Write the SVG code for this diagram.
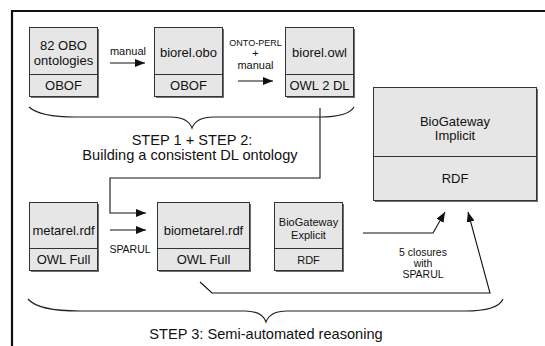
<svg xmlns="http://www.w3.org/2000/svg" width="545" height="346" viewBox="0 0 545 346">
  <defs>
    <marker id="arrow" viewBox="0 0 10 8" refX="10" refY="4" markerWidth="10" markerHeight="8" markerUnits="userSpaceOnUse" orient="auto">
      <path d="M0,0 L10,4 L0,8 Z" fill="#111"/>
    </marker>
  </defs>
  <style>
    text { font-family: "Liberation Sans", Arial, sans-serif; fill: #111; text-anchor: middle; }
    .shadow { fill: #6e6e6e; }
    .box { fill: #e6e6e6; stroke: #333; stroke-width: 1; }
    .div { stroke: #333; stroke-width: 1; }
    .t13 { font-size: 13px; }
    .t11 { font-size: 11px; }
    .t10 { font-size: 10.5px; }
    .t9 { font-size: 9px; }
    .step { font-size: 14.6px; }
    .wire { fill: none; stroke: #111; stroke-width: 1.1; }
    .brace { fill: none; stroke: #222; stroke-width: 1.2; }
  </style>

  <rect width="545" height="346" fill="#fff"/>

  <!-- outer frame: top and left edges only -->
  <path d="M12,346 V11 H545" fill="none" stroke="#111" stroke-width="2.2"/>

  <!-- nodes -->
  <g id="obo-ontologies">
    <rect class="shadow" x="31" y="29" width="68" height="69"/>
    <rect class="box" x="29.5" y="27.5" width="68" height="69"/>
    <line class="div" x1="29.5" y1="74.5" x2="97.5" y2="74.5"/>
    <text class="t13" x="63.5" y="50">82 OBO</text>
    <text class="t13" x="63.5" y="65">ontologies</text>
    <text class="t13" x="63.5" y="90">OBOF</text>
  </g>

  <g id="biorel-obo">
    <rect class="shadow" x="156" y="29" width="68" height="69"/>
    <rect class="box" x="154.5" y="27.5" width="68" height="69"/>
    <line class="div" x1="154.5" y1="74.5" x2="222.5" y2="74.5"/>
    <text class="t13" x="188.5" y="57">biorel.obo</text>
    <text class="t13" x="188.5" y="90">OBOF</text>
  </g>

  <g id="biorel-owl">
    <rect class="shadow" x="287" y="29" width="68" height="69"/>
    <rect class="box" x="285.5" y="27.5" width="68" height="69"/>
    <line class="div" x1="285.5" y1="74.5" x2="353.5" y2="74.5"/>
    <text class="t13" x="319.5" y="57">biorel.owl</text>
    <text class="t13" x="319.5" y="90">OWL 2 DL</text>
  </g>

  <g id="biogateway-implicit">
    <rect class="shadow" x="375" y="89" width="163" height="113"/>
    <rect class="box" x="373.5" y="87.5" width="163" height="113"/>
    <line class="div" x1="373.5" y1="156.5" x2="536.5" y2="156.5"/>
    <text class="t13" x="455" y="126">BioGateway</text>
    <text class="t13" x="455" y="140">Implicit</text>
    <text class="t13" x="455" y="183">RDF</text>
  </g>

  <g id="metarel">
    <rect class="shadow" x="31" y="204" width="68" height="68"/>
    <rect class="box" x="29.5" y="202.5" width="68" height="68"/>
    <line class="div" x1="29.5" y1="248.5" x2="97.5" y2="248.5"/>
    <text class="t13" x="63.5" y="234.5">metarel.rdf</text>
    <text class="t13" x="63.5" y="264">OWL Full</text>
  </g>

  <g id="biometarel">
    <rect class="shadow" x="159" y="204" width="92" height="68"/>
    <rect class="box" x="157.5" y="202.5" width="92" height="68"/>
    <line class="div" x1="157.5" y1="248.5" x2="249.5" y2="248.5"/>
    <text class="t13" x="203.5" y="234.5">biometarel.rdf</text>
    <text class="t13" x="203.5" y="264">OWL Full</text>
  </g>

  <g id="biogateway-explicit">
    <rect class="shadow" x="276" y="204" width="68" height="68"/>
    <rect class="box" x="274.5" y="202.5" width="68" height="68"/>
    <line class="div" x1="274.5" y1="248.5" x2="342.5" y2="248.5"/>
    <text class="t11" x="308.5" y="226">BioGateway</text>
    <text class="t11" x="308.5" y="239">Explicit</text>
    <text class="t11" x="308.5" y="264">RDF</text>
  </g>

  <!-- connectors -->
  <g id="connectors">
    <line class="wire" x1="110" y1="63" x2="145" y2="63" marker-end="url(#arrow)"/>
    <text class="t11" x="128" y="55">manual</text>

    <line class="wire" x1="238" y1="81" x2="273" y2="81" marker-end="url(#arrow)"/>
    <text class="t9" x="255.5" y="46">ONTO-PERL</text>
    <text class="t11" x="255.5" y="57">+</text>
    <text class="t11" x="255.5" y="69">manual</text>

    <path class="wire" d="M320,108 V178 H110 V213 H146" marker-end="url(#arrow)"/>
    <line class="wire" x1="110" y1="230" x2="146" y2="230" marker-end="url(#arrow)"/>
    <text class="t10" x="130" y="253">SPARUL</text>

    <path class="wire" d="M363,233 H433 L445,212" marker-end="url(#arrow)"/>
    <path class="wire" d="M200,282 L212,293 H490 L468,212" marker-end="url(#arrow)"/>
    <text class="t10" x="423" y="256">5 closures</text>
    <text class="t10" x="423" y="267">with</text>
    <text class="t10" x="423" y="278">SPARUL</text>
  </g>

  <!-- braces and step captions -->
  <g id="step12">
    <path class="brace" d="M29,107 Q40,117 75,117 H170 Q188,117 192,128 Q196,117 214,117 H320 Q348,117 354,107"/>
    <text class="step" x="192" y="145">STEP 1 + STEP 2:</text>
    <text class="step" x="190" y="160">Building a consistent DL ontology</text>
  </g>

  <g id="step3">
    <path class="brace" d="M28,299 Q38,311 80,311 H245 Q262,311 266,322 Q270,311 287,311 H465 Q498,311 503,299"/>
    <text class="step" x="266" y="339">STEP 3: Semi-automated reasoning</text>
  </g>
</svg>
